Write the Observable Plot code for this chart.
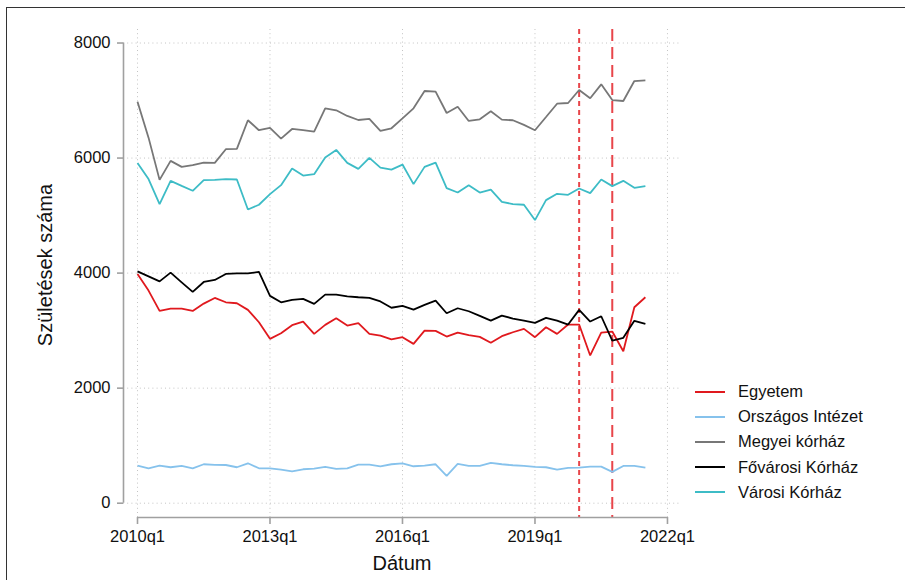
<!DOCTYPE html>
<html>
<head>
<meta charset="utf-8">
<script src="https://cdn.jsdelivr.net/npm/d3@7"></script>
<script src="https://cdn.jsdelivr.net/npm/@observablehq/plot@0.6"></script>
<style>
  html, body { margin: 0; padding: 0; background: #fff; }
  body { width: 905px; height: 580px; overflow: hidden; font-family: "Liberation Sans", Arial, Helvetica, sans-serif; }
  #wrap { position: relative; width: 905px; height: 580px; }
  #border { position: absolute; left: 6px; top: 7px; width: 920px; height: 600px; border-left: 1.6px solid #333; border-top: 1.6px solid #333; pointer-events: none; }
  #chart { position: absolute; left: 0; top: 0; }
  .ytitle { position: absolute; left: 45px; top: 265px; transform: translate(-50%, -50%) rotate(-90deg); font-size: 20px; color: #111; white-space: nowrap; }
  .xtitle { position: absolute; left: 402px; top: 563px; transform: translate(-50%, -50%); font-size: 20px; color: #111; white-space: nowrap; }
  #legend { position: absolute; left: 695px; top: 379px; font-size: 16.5px; color: #111; }
  .item { display: flex; align-items: center; height: 25.2px; white-space: nowrap; }
  .swatch { width: 30px; height: 2px; margin-right: 13px; }
</style>
</head>
<body>
<div id="wrap">
  <div id="chart"></div>
  <div id="border"></div>
  <div class="ytitle">Születések száma</div>
  <div class="xtitle">Dátum</div>
  <div id="legend"></div>
</div>
<script>
// Quarter index 0 = 2010q1 ... 46 = 2021q3
const seriesNames = ["Egyetem", "Országos Intézet", "Megyei kórház", "Fővárosi Kórház", "Városi Kórház"];
const seriesColors = ["#e0191e", "#86c2ec", "#777777", "#000000", "#3dbcc6"];

const egyetem = [3985, 3696, 3343, 3383, 3383, 3343, 3470, 3568, 3493, 3476,
  3361, 3146, 2857, 2955, 3094, 3158, 2944, 3100, 3215, 3088,
  3129, 2944, 2912, 2848, 2886, 2770, 3001, 2996, 2897, 2967,
  2920, 2892, 2788, 2903, 2972, 3031, 2886, 3059, 2944, 3106,
  3106, 2568, 2967, 2984, 2642, 3406, 3580];

const orszagos = [654, 607, 654, 625, 648, 607, 677, 665, 664, 625,
  694, 607, 607, 584, 555, 590, 602, 630, 596, 607,
  671, 671, 642, 677, 694, 642, 654, 677, 474, 682,
  648, 648, 700, 677, 660, 648, 630, 625, 584, 613,
  619, 636, 636, 544, 648, 648, 619];

const megyei = [6980, 6355, 5621, 5951, 5847, 5876, 5922, 5916, 6154, 6159,
  6657, 6484, 6524, 6338, 6506, 6484, 6460, 6865, 6830, 6732,
  6662, 6680, 6472, 6518, 6691, 6865, 7166, 7154, 6784, 6893,
  6645, 6674, 6813, 6668, 6657, 6576, 6484, 6714, 6945, 6957,
  7183, 7039, 7282, 7009, 6992, 7339, 7351];

const fovarosi = [4031, 3944, 3857, 4008, 3840, 3673, 3846, 3881, 3985, 3996,
  3996, 4020, 3604, 3493, 3534, 3552, 3465, 3626, 3626, 3597,
  3580, 3568, 3507, 3398, 3430, 3366, 3447, 3522, 3302, 3389,
  3337, 3256, 3175, 3262, 3210, 3175, 3135, 3222, 3175, 3106,
  3361, 3158, 3250, 2828, 2875, 3170, 3118];

const varosi = [5916, 5634, 5200, 5604, 5517, 5431, 5616, 5621, 5633, 5627,
  5106, 5188, 5373, 5529, 5818, 5696, 5720, 6008, 6142, 5916,
  5812, 6003, 5835, 5800, 5887, 5547, 5847, 5922, 5477, 5401,
  5529, 5401, 5453, 5240, 5200, 5188, 4922, 5269, 5379, 5361,
  5471, 5390, 5627, 5512, 5604, 5483, 5512];

const yTicks = [0, 2000, 4000, 6000, 8000];
const xTicks = [0, 12, 24, 36, 48];
const xTickLabels = ["2010q1", "2013q1", "2016q1", "2019q1", "2022q1"];
const eventQuarters = [40, 43]; // 2020q1, 2020q4

const allSeries = [egyetem, orszagos, megyei, fovarosi, varosi];
const data = [];
allSeries.forEach((vals, s) => vals.forEach((v, i) => data.push({q: i, value: v, series: seriesNames[s]})));

const xDom = [-1.268, 49.18];
const yDom = [-248.6, 8235];
const axisColor = "#a0a0a0";
const gridStyle = {stroke: "#c4c4c4", strokeWidth: 1, strokeDasharray: "1,3.2"};

const chart = Plot.plot({
  width: 905,
  height: 580,
  marginLeft: 123,
  marginRight: 225,
  marginTop: 29,
  marginBottom: 63,
  style: {fontFamily: "'Liberation Sans', Arial, Helvetica, sans-serif", fontSize: "16.5px", color: "#111", background: "transparent"},
  x: {domain: xDom, axis: null},
  y: {domain: yDom, axis: null},
  color: {domain: seriesNames, range: seriesColors},
  marks: [
    Plot.ruleY(yTicks, {...gridStyle}),
    Plot.ruleX(xTicks, {...gridStyle}),
    Plot.ruleX([eventQuarters[0]], {stroke: "#e8454a", strokeWidth: 2, strokeDasharray: "5,4"}),
    Plot.ruleX([eventQuarters[1]], {stroke: "#e8454a", strokeWidth: 2, strokeDasharray: "12,6"}),
    Plot.line(data, {x: "q", y: "value", z: "series", stroke: "series", strokeWidth: 1.8, strokeLinejoin: "miter", strokeLinecap: "butt"}),
    Plot.ruleX([xDom[0]], {y1: yTicks[0], y2: yTicks[yTicks.length - 1], stroke: axisColor, strokeWidth: 1.6}),
    Plot.ruleY([yDom[0]], {x1: xTicks[0], x2: xTicks[xTicks.length - 1], stroke: axisColor, strokeWidth: 1.6}),
    Plot.axisY(yTicks, {anchor: "left", tickSize: 6, tickPadding: 7, stroke: axisColor, strokeWidth: 1.6, tickFormat: d => String(d), label: null, fontSize: 16.5}),
    Plot.axisX(xTicks, {anchor: "bottom", tickSize: 7, tickPadding: 6, stroke: axisColor, strokeWidth: 1.6, tickFormat: (d) => xTickLabels[xTicks.indexOf(d)], label: null, fontSize: 16.5})
  ]
});
document.getElementById("chart").appendChild(chart);

const legend = document.getElementById("legend");
seriesNames.forEach((name, i) => {
  const row = document.createElement("div");
  row.className = "item";
  const sw = document.createElement("div");
  sw.className = "swatch";
  sw.style.background = seriesColors[i];
  const label = document.createElement("span");
  label.textContent = name;
  row.appendChild(sw);
  row.appendChild(label);
  legend.appendChild(row);
});
</script>
</body>
</html>
